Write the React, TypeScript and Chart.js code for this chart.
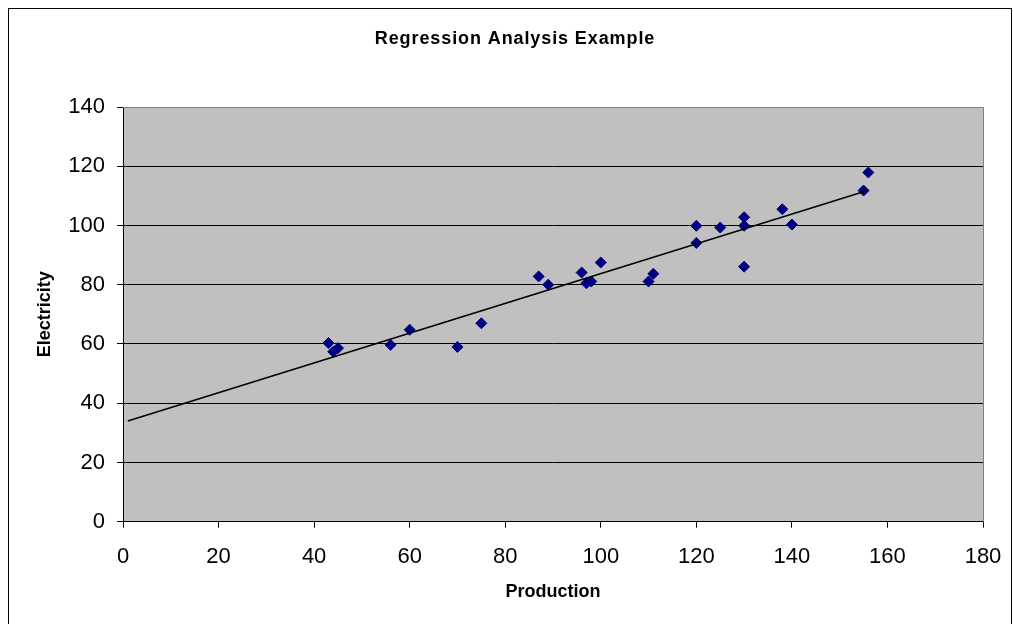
import React, { useEffect, useRef } from "react";
import { Chart, registerables } from "chart.js";

Chart.register(...registerables);

const production = [43, 44, 45, 56, 60, 70, 75, 87, 89, 96, 97, 98, 100, 110, 111, 120, 120, 125, 130, 130, 130, 138, 140, 155, 156];
const electricity = [60.3, 57.4, 58.6, 59.7, 64.8, 59.0, 67.0, 82.8, 80.0, 84.1, 80.5, 81.1, 87.5, 81.1, 83.7, 94.1, 99.9, 99.3, 102.8, 99.9, 86.1, 105.5, 100.3, 111.8, 117.9];
const trendX = [1, 156];
const trendY = [34.0, 111.9];

const titleText = "Regression Analysis Example";
const xTitle = "Production";
const yTitle = "Electricity";

const FONT = "'Liberation Sans', Arial, sans-serif";

const plotBg = {
  id: "plotBg",
  beforeDraw(chart: any) {
    const { ctx, chartArea } = chart;
    if (!chartArea) return;
    ctx.save();
    ctx.fillStyle = "#C0C0C0";
    ctx.fillRect(chartArea.left, chartArea.top, chartArea.right - chartArea.left, chartArea.bottom - chartArea.top);
    ctx.restore();
  },
  afterDatasetsDraw(chart: any) {
    const { ctx, chartArea } = chart;
    ctx.save();
    ctx.strokeStyle = "#808080";
    ctx.lineWidth = 1;
    ctx.beginPath();
    ctx.moveTo(chartArea.left, Math.round(chartArea.top) + 0.5);
    ctx.lineTo(Math.round(chartArea.right) + 0.5, Math.round(chartArea.top) + 0.5);
    ctx.lineTo(Math.round(chartArea.right) + 0.5, chartArea.bottom);
    ctx.stroke();
    ctx.restore();
  },
  afterDraw(chart: any) {
    const { ctx } = chart;
    ctx.save();
    ctx.fillStyle = "#000";
    ctx.font = "bold 18px " + FONT;
    try {
      (ctx as any).letterSpacing = "0.9px";
    } catch (e) {}
    ctx.textAlign = "center";
    ctx.textBaseline = "middle";
    ctx.fillText(titleText, 506, 30);
    ctx.restore();
  },
};

export default function App() {
  const ref = useRef<HTMLCanvasElement | null>(null);
  useEffect(() => {
    if (!ref.current) return;
    const chart = new Chart(ref.current, {
      type: "scatter",
      data: {
        datasets: [
          {
            label: "Electricity",
            data: production.map((x, i) => ({ x, y: electricity[i] })),
            pointStyle: "rectRot",
            pointRadius: 5.5,
            backgroundColor: "#000080",
            borderColor: "#000080",
            borderWidth: 1,
            order: 1,
          },
          {
            label: "Trend",
            type: "line",
            data: trendX.map((x, i) => ({ x, y: trendY[i] })),
            borderColor: "#000000",
            borderWidth: 1.5,
            pointRadius: 0,
            fill: false,
            order: 0,
          } as any,
        ],
      },
      options: {
        animation: false,
        responsive: true,
        maintainAspectRatio: false,
        layout: { padding: { left: 0, right: 28, top: 98, bottom: 0 } },
        plugins: {
          legend: { display: false },
          tooltip: { enabled: false },
          title: { display: false },
        },
        scales: {
          x: {
            type: "linear",
            min: 0,
            max: 180,
            afterFit(scale: any) {
              scale.height = 107.3;
              scale.paddingLeft = 0;
              scale.paddingRight = 0;
            },
            ticks: {
              stepSize: 20,
              color: "#000",
              padding: 16,
              font: { family: FONT, size: 22 },
            },
            grid: {
              drawOnChartArea: false,
              drawTicks: true,
              tickLength: 6,
              tickColor: "#000",
            },
            border: { color: "#000", width: 1 },
            title: {
              display: true,
              text: xTitle,
              color: "#000",
              font: { family: FONT, size: 18, weight: "bold", lineHeight: 1.2 },
              padding: { top: 0, bottom: 26.5 },
            },
          },
          y: {
            type: "linear",
            min: 0,
            max: 140,
            afterFit(scale: any) {
              scale.width = 114;
              scale.paddingTop = 0;
              scale.paddingBottom = 0;
            },
            ticks: {
              stepSize: 20,
              color: "#000",
              padding: 12,
              font: { family: FONT, size: 22 },
            },
            grid: {
              drawOnChartArea: true,
              drawTicks: true,
              tickLength: 6,
              color: (ctx: any) => (ctx.tick && ctx.tick.value === 140 ? "#808080" : "#000"),
              tickColor: "#000",
              lineWidth: 1,
            },
            border: { color: "#000", width: 1 },
            title: {
              display: true,
              text: yTitle,
              color: "#000",
              font: { family: FONT, size: 18, weight: "bold", lineHeight: 1.2 },
              padding: { top: 25.2, bottom: 0 },
            },
          },
        },
      },
      plugins: [plotBg],
    });
    return () => chart.destroy();
  }, []);

  return (
    <div
      style={{
        position: "fixed",
        left: 8,
        top: 8,
        width: 1002,
        height: 620,
        border: "1px solid #000",
        background: "#fff",
      }}
    >
      <canvas ref={ref} style={{ width: "100%", height: "100%" }} />
    </div>
  );
}
